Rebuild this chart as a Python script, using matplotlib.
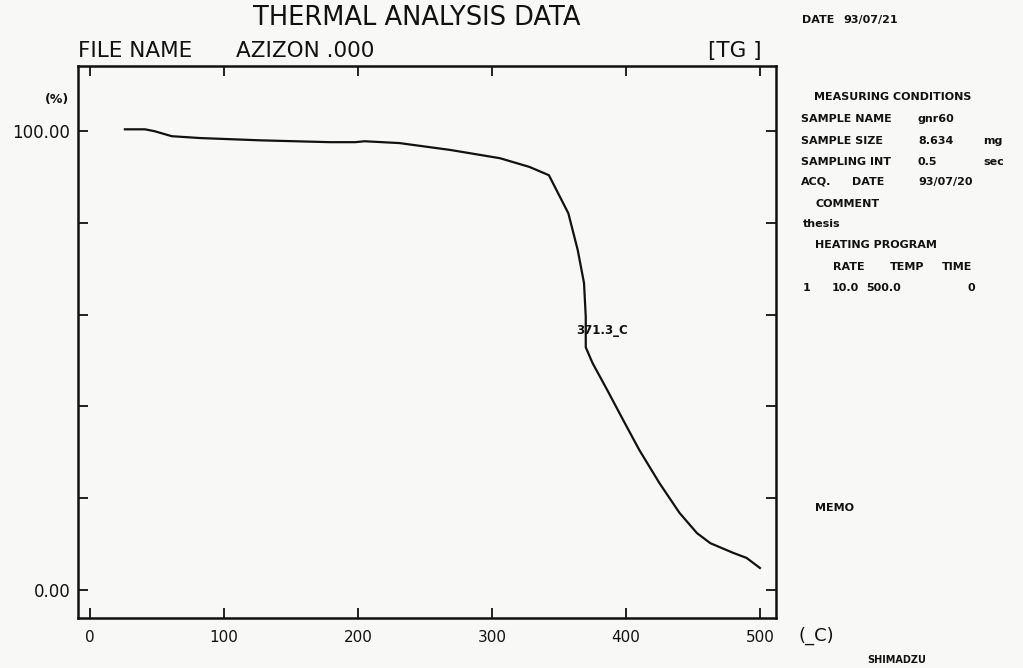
import matplotlib.pyplot as plt
import numpy as np

# TG curve (temperature in C, weight in %)
temp_c = [26, 41, 48, 61, 82, 127, 179, 198, 205, 231, 269, 306, 328, 342.5,
          357, 364, 368.7, 370, 370, 375, 386, 398, 410, 425, 440, 453, 463,
          480, 490, 500]
weight_pct = [100.4, 100.4, 100.0, 98.9, 98.5, 98.0, 97.6, 97.6, 97.8, 97.4,
              95.9, 94.1, 92.2, 90.4, 82.1, 74.1, 66.9, 59.5, 52.9, 49.5,
              43.6, 37.0, 30.5, 23.3, 16.8, 12.4, 10.2, 8.1, 7.0, 4.8]

x_ticks = [0, 100, 200, 300, 400, 500]
y_ticks = [0, 20, 40, 60, 80, 100]
y_labels = ['0.00', '', '', '', '', '100.00']

peak_label = '371.3_C'

cond_keys = ['SAMPLE NAME', 'SAMPLE SIZE', 'SAMPLING INT', 'ACQ.']
cond_vals = ['gnr60', '8.634', '0.5', '93/07/20']
cond_units = ['', 'mg', 'sec', '']

W, H = 1023, 668
paper = '#f8f8f6'
ink = '#111111'

fig = plt.figure(figsize=(W / 100, H / 100), dpi=100, facecolor=paper)
ax = fig.add_axes([78 / W, 1 - 618 / H, 698 / W, 552 / H], facecolor=paper)

ax.plot(temp_c, weight_pct, color=ink, lw=1.6)
ax.text(363, 56.6, peak_label, fontsize=8.5, fontweight='bold', color=ink,
        va='center', ha='left')

ax.set_xlim(-9, 512)
ax.set_ylim(-6.1, 114.2)
ax.set_xticks(x_ticks)
ax.set_yticks(y_ticks)
ax.set_yticklabels(y_labels)
ax.tick_params(direction='in', length=7, width=1.3, top=True, right=True,
               colors=ink)
ax.tick_params(axis='x', labelsize=11, pad=9)
ax.tick_params(axis='y', labelsize=12, pad=5.5)
for s in ax.spines.values():
    s.set_linewidth(1.8)
    s.set_color(ink)

def px(x, y, s, **kw):
    kw.setdefault('color', ink)
    kw.setdefault('va', 'center')
    fig.text(x / W, 1 - y / H, s, **kw)

px(417, 18, 'THERMAL ANALYSIS DATA', fontsize=18.5, ha='center')
px(78, 51, 'FILE NAME', fontsize=15.5)
px(236, 51, 'AZIZON .000', fontsize=15.5)
px(762, 51, '[TG ]', fontsize=15.5, ha='right')
px(45, 100, '(%)', fontsize=9, fontweight='bold')
px(799, 636, '(_C)', fontsize=13)
px(867, 660, 'SHIMADZU', fontsize=7, fontweight='bold')

# right hand panel
small = dict(fontsize=8, fontweight='bold')
px(802, 20, 'DATE', **small)
px(843, 20, '93/07/21', **small)
px(814, 97, 'MEASURING CONDITIONS', **small)
row_y = [119, 141, 162, 182]
for yy, k, v, u in zip(row_y, cond_keys, cond_vals, cond_units):
    px(801, yy, k, **small)
    px(918, yy, v, **small)
    if u:
        px(983, yy, u, **small)
px(852, 182, 'DATE', **small)
px(815, 204, 'COMMENT', **small)
px(803, 224, 'thesis', **small)
px(815, 245, 'HEATING PROGRAM', **small)
px(833, 267, 'RATE', **small)
px(890, 267, 'TEMP', **small)
px(942, 267, 'TIME', **small)
px(803, 288, '1', **small)
px(832, 288, '10.0', **small)
px(866, 288, '500.0', **small)
px(967, 288, '0', **small)
px(815, 508, 'MEMO', **small)

fig.savefig('out.png', dpi=100, facecolor=paper)
